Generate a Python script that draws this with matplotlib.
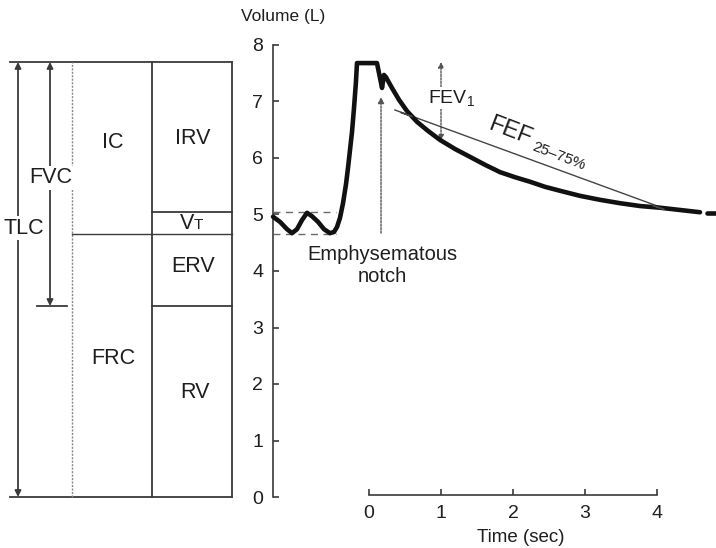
import matplotlib
matplotlib.use("Agg")
import matplotlib.pyplot as plt

plt.rcParams['font.family'] = ['Liberation Sans', 'DejaVu Sans']
plt.rcParams['mathtext.fontset'] = 'custom'
plt.rcParams['mathtext.rm'] = 'Liberation Sans'
plt.rcParams['mathtext.it'] = 'Liberation Sans:italic'

# ---------------- data ----------------
# spirogram trace: time (s) vs volume (L)
time_s = [-1.333, -1.236, -1.139, -1.069, -1.0, -0.931, -0.861, -0.792, -0.708,
          -0.625, -0.542, -0.486, -0.444, -0.403, -0.361, -0.319, -0.292, -0.264,
          -0.236, -0.208, -0.181, -0.167, 0.111, 0.181, 0.208, 0.236, 0.319,
          0.417, 0.528, 0.667, 0.819, 0.986, 1.194, 1.403, 1.611, 1.819, 2.028,
          2.236, 2.444, 2.653, 2.931, 3.208, 3.486, 3.764, 4.042, 4.319, 4.597]
volume_l = [4.96, 4.87, 4.74, 4.67, 4.74, 4.90, 5.03, 4.97, 4.87,
            4.74, 4.67, 4.69, 4.78, 4.94, 5.20, 5.54, 5.82, 6.14,
            6.46, 6.89, 7.35, 7.68, 7.68, 7.24, 7.47, 7.43, 7.24,
            7.03, 6.83, 6.64, 6.48, 6.32, 6.16, 6.02, 5.88, 5.75, 5.66,
            5.58, 5.49, 5.42, 5.33, 5.26, 5.20, 5.15, 5.12, 5.08, 5.04]
tail_t = [4.69, 4.82]
tail_v = [5.03, 5.03]

# lung volume levels (L)
TLC = 7.7
VT_TOP = 5.05
FRC = 4.65
RV = 3.38

# FEF 25-75% line and crossing marks
fef_t = [0.36, 4.07]
fef_v = [6.85, 5.12]
fef_mark_t = [0.52, 4.01]
fef_mark_v = [6.78, 5.14]

# FEV1 marker
fev1_t = 1.0
fev1_top, fev1_bottom = 7.70, 6.31

# emphysematous notch arrow
notch_t = 0.167
notch_from, notch_to = 4.67, 7.08

y_ticks = [0, 1, 2, 3, 4, 5, 6, 7, 8]
x_ticks = [0, 1, 2, 3, 4]

# ---------------- figure ----------------
W, H = 716, 548
fig = plt.figure(figsize=(W / 100, H / 100), dpi=100)

# pixel mapping: t=0 at x=369, 72 px/s ; v=0 at y=497, 56.5 px/L
def tx(px):
    return (px - 369) / 72.0

def vy(py):
    return (497 - py) / 56.5

ax = fig.add_axes([0, 0, 1, 1])
ax.set_xlim(tx(0), tx(W))
ax.set_ylim(vy(H), vy(0))
ax.patch.set_alpha(0)

axd = fig.add_axes([0, 0, 1, 1], zorder=-1)
axd.set_xlim(0, W)
axd.set_ylim(vy(H), vy(0))
axd.axis('off')

dark = '#3a3a3a'
gray = '#6a6a6a'
txtc = '#1e1e1e'

# axes spines
for s in ['top', 'right']:
    ax.spines[s].set_visible(False)
ax.spines['left'].set_position(('data', tx(273)))
ax.spines['left'].set_bounds(0, 8)
ax.spines['bottom'].set_position(('data', vy(495)))
ax.spines['bottom'].set_bounds(0, 4)
for s in ['left', 'bottom']:
    ax.spines[s].set_linewidth(1.2)
    ax.spines[s].set_color(dark)
ax.set_yticks(y_ticks)
ax.set_xticks(x_ticks)
ax.tick_params(direction='in', length=4.5, width=1.2, color=dark,
               labelsize=14, labelcolor=txtc, pad=7)

ax.text(tx(283), vy(17), 'Volume (L)', ha='center', va='center', fontsize=12.5, color=txtc)
ax.text(tx(521), vy(537), 'Time (sec)', ha='center', va='center', fontsize=13.5, color=txtc)

# tidal reference dashed lines
ax.plot([tx(273), tx(336)], [VT_TOP, VT_TOP], color=gray, lw=1.0, dashes=(5, 4))
ax.plot([tx(273), tx(336)], [FRC, FRC], color=gray, lw=1.0, dashes=(5, 4))

# spirogram
ax.plot(time_s, volume_l, color='#111', lw=3.3, solid_joinstyle='round',
        solid_capstyle='round', zorder=5)
ax.plot(tail_t, tail_v, color='#111', lw=3.3, solid_capstyle='round', zorder=5)

# FEF line and marks
ax.plot(fef_t, fef_v, color='#444', lw=1.0, zorder=4)
ax.plot(fef_mark_t, fef_mark_v, ls='none', marker=(2, 2, 70), ms=9, mew=1.0,
        color='#444', zorder=6)
ax.text(tx(510), vy(131), 'FEF', rotation=-21, ha='center', va='center',
        fontsize=17, color=txtc, rotation_mode='anchor')
ax.text(tx(559), vy(156), '25–75%', rotation=-21, ha='center', va='center',
        fontsize=11, color=txtc, rotation_mode='anchor')

# FEV1 arrow
ax.annotate('', xy=(fev1_t, fev1_top), xytext=(fev1_t, fev1_bottom),
            arrowprops=dict(arrowstyle='<|-|>', color='#555', lw=1.0, ls=(0, (1.5, 1)),
                            mutation_scale=8, shrinkA=0, shrinkB=0))
ax.text(tx(451), vy(98), 'FEV$_\\mathrm{1}$', ha='center', va='center', fontsize=14,
        color=txtc, bbox=dict(facecolor='white', edgecolor='none', pad=0.5))

# emphysematous notch arrow
ax.annotate('', xy=(notch_t, notch_to), xytext=(notch_t, notch_from),
            arrowprops=dict(arrowstyle='-|>', color='#555', lw=1.0, ls=(0, (1.5, 1)),
                            mutation_scale=9, shrinkA=0, shrinkB=0))
ax.text(tx(382), vy(255), 'Emphysematous', ha='center', va='center', fontsize=14.5, color=txtc)
ax.text(tx(382), vy(277), 'notch', ha='center', va='center', fontsize=14.5, color=txtc)

# ---------------- lung volume diagram (x in pixels) ----------------
lw_box = 1.3
axd.plot([10, 232], [TLC, TLC], color=dark, lw=lw_box)
axd.plot([10, 232], [0, 0], color=dark, lw=lw_box)
axd.plot([72, 72], [0, TLC], color='#888', lw=1.0, ls=(0, (1.5, 1)))
axd.plot([152, 152], [0, TLC], color=dark, lw=lw_box)
axd.plot([232, 232], [0, TLC], color=dark, lw=lw_box)
axd.plot([72, 232], [FRC, FRC], color=dark, lw=1.0)
axd.plot([152, 232], [VT_TOP, VT_TOP], color=dark, lw=lw_box)
axd.plot([152, 232], [RV, RV], color=dark, lw=lw_box)
axd.plot([37, 67], [RV, RV], color=dark, lw=lw_box)

axd.annotate('', xy=(18, TLC), xytext=(18, 0),
             arrowprops=dict(arrowstyle='<|-|>', color=dark, lw=1.3,
                             mutation_scale=9, shrinkA=0, shrinkB=0))
axd.annotate('', xy=(50, TLC), xytext=(50, RV),
             arrowprops=dict(arrowstyle='<|-|>', color=dark, lw=1.3,
                             mutation_scale=9, shrinkA=0, shrinkB=0))

tkw = dict(ha='center', va='center', fontsize=15.5, color=txtc)
bkw = dict(facecolor='white', edgecolor='none', pad=1.0)
axd.text(24, vy(228), 'TLC', bbox=bkw, **tkw)
axd.text(51, vy(178), 'FVC', bbox=bkw, **tkw)
axd.text(113, vy(143), 'IC', **tkw)
axd.text(113, vy(358), 'FRC', **tkw)
axd.text(193, vy(138), 'IRV', **tkw)
axd.text(193, vy(267), 'ERV', **tkw)
axd.text(195, vy(392), 'RV', **tkw)
axd.text(194, vy(229), 'V', ha='right', va='baseline', fontsize=15.5, color=txtc)
axd.text(194, vy(229), 'T', ha='left', va='baseline', fontsize=11, color=txtc)

fig.savefig('out.png', dpi=100)
